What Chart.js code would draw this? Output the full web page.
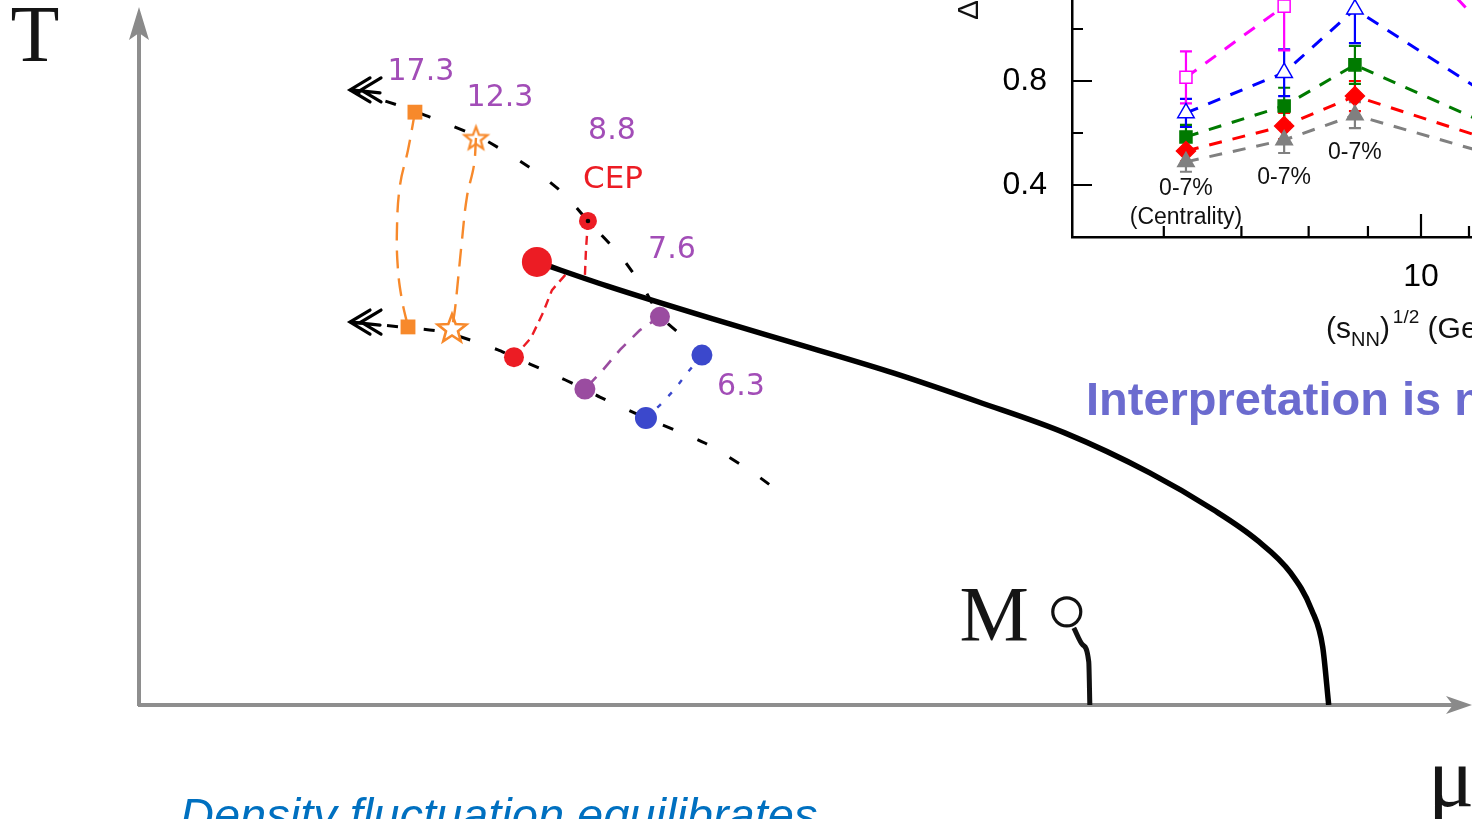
<!DOCTYPE html>
<html>
<head>
<meta charset="utf-8">
<title>QCD phase diagram and intermittency index</title>
<script src="https://cdn.jsdelivr.net/npm/chart.js@4.4.1/dist/chart.umd.min.js"></script>
<style>
  html, body { margin: 0; padding: 0; background: #fff; overflow: hidden; width: 1472px; height: 819px; }
  #wrap { position: relative; width: 1472px; height: 819px; overflow: hidden; }
  #main { position: absolute; left: 0; top: 0; }
  #inset { position: absolute; left: 932px; top: -160px; }
</style>
</head>
<body>
<div id="wrap">
  <canvas id="main" width="1472" height="819"></canvas>
  <canvas id="inset" width="908" height="560"></canvas>
</div>
<script>
// ---------------- Phase diagram (muB and T in MeV) ----------------
// crossover / first-order boundary starting at the critical end point
const boundaryMu = [298.5, 351.0, 430.5, 501.8, 566.3, 630.0, 694.5, 758.3, 806.3, 838.5, 864.0, 879.8, 888.0, 892.5];
const boundaryT  = [127.5, 120.6, 111.1, 103.0,  95.5,  87.2,  78.3,  66.8,  56.1,  47.5,  38.0,  27.3,  16.7,   0.0];

// upper and lower dashed freeze-out curves (first point = arrow tip)
const upperFoMu = [158.3, 193.5, 218.3, 259.5, 299.3, 319.5, 336.8, 360.8, 379.5, 390.8, 415.5, 422.3];
const upperFoT  = [177.0, 172.7, 169.2, 162.6, 153.1, 146.8, 139.3, 129.5, 119.4, 111.9, 103.6, 100.7];
const lowerFoMu = [158.3, 195.8, 229.5, 269.3, 281.3, 305.3, 334.5, 345.8, 380.3, 424.5, 459.8, 488.3];
const lowerFoT  = [110.2, 108.8, 107.3, 102.2, 100.1,  96.1,  90.9,  88.6,  82.6,  75.4,  67.1,  59.0];

// beam energies sqrt(sNN) in GeV and their early / late points
const energyLabels = ['17.3', '12.3', '8.8', '7.6', '6.3'];
const highMu = [207.0, 252.8, 336.8, 390.8, 422.3];
const highT  = [170.6, 163.2, 139.3, 111.7, 100.7];
const lowMu  = [201.8, 234.8, 281.3, 334.5, 380.3];
const lowT   = [108.8, 108.5, 100.1,  90.9,  82.6];

// trajectories between the two points of each energy
const path173Mu = [207.0, 201.8, 195.8, 193.5, 194.3, 197.3, 201.8];
const path173T  = [170.6, 159.7, 149.6, 136.7, 125.2, 116.5, 108.8];
const path123Mu = [252.8, 251.3, 246.0, 242.3, 239.3, 237.0, 234.8];
const path123T  = [163.2, 155.4, 146.2, 133.8, 122.3, 113.7, 108.5];
const path88Mu  = [336.8, 335.3, 334.5, 320.3, 309.8, 303.0, 294.0, 281.3];
const path88T   = [139.3, 130.9, 123.5, 124.0, 119.4, 112.8, 105.6, 100.1];
const path76Mu  = [390.8, 375.8, 360.8, 348.0, 334.5];
const path76T   = [111.7, 107.9, 102.2,  96.4,  90.9];
const path63Mu  = [422.3, 411.8, 401.3, 390.8, 380.3];
const path63T   = [100.7,  95.8,  90.6,  86.3,  82.6];

// critical end point
const cepMu = [298.5];
const cepT  = [127.5];

// nuclear matter point M and its liquid-gas line
const mPointMu = [696.0];
const mPointT  = [26.8];
const mLineMu  = [701.3, 708.0, 712.5, 713.3];
const mLineT   = [22.2, 17.3, 12.4, 0.0];

// ---------------- Inset: index vs sqrt(sNN) ----------------
const insetEnergy = [6.27, 7.62, 8.77, 12.3];
const magentaVal = [0.814, 1.088, 1.540, 0.836];
const magentaErr = [0.100, 0.170, 0.150, 0.120];
const blueVal    = [0.677, 0.832, 1.076, 0.654];
const blueErr    = [0.054, 0.090, 0.130, 0.080];
const greenVal   = [0.585, 0.704, 0.862, 0.570];
const greenErr   = [0.046, 0.070, 0.073, 0.060];
const redVal     = [0.531, 0.627, 0.742, 0.530];
const redErr     = [0.040, 0.050, 0.058, 0.050];
const grayVal    = [0.489, 0.573, 0.669, 0.480];
const grayErr    = [0.038, 0.050, 0.050, 0.040];

const insetYTicks  = [0.2, 0.4, 0.6, 0.8, 1.0, 1.2, 1.4, 1.6];
const insetYLabels = [0.4, 0.8, 1.2];
const insetXTicks  = [5, 6, 7, 8, 9, 10, 11, 12, 13, 14, 15, 16, 17, 18, 19, 20];
const insetXLabels = [10];

// centrality notes: [energy, value, text]
const centralityNotes = [
  [6.27, 0.385, '0-7%'],
  [6.27, 0.275, '(Centrality)'],
  [7.62, 0.430, '0-7%'],
  [8.77, 0.525, '0-7%']
];

// ------------------------------------------------------------
const pts = (xs, ys) => xs.map((x, i) => ({ x: x, y: ys[i] }));
const SANS = '"Liberation Sans", Arial, sans-serif';
const SERIF = '"Liberation Serif", "Times New Roman", serif';

const ORANGE = '#f7892b', RED = '#ec1c24', PURPLE = '#9a4ca0', BLUE = '#3b48cc';
const LABEL_PURPLE = '#a24db7';

function starImage(r, color, lw) {
  const s = Math.ceil(2 * r + 2 * lw + 4);
  const c = document.createElement('canvas');
  c.width = s; c.height = s;
  const g = c.getContext('2d');
  g.translate(s / 2, s / 2 + r * 0.08);
  g.beginPath();
  for (let i = 0; i < 10; i++) {
    const rad = i % 2 ? r * 0.42 : r;
    const a = -Math.PI / 2 + i * Math.PI / 5;
    g.lineTo(rad * Math.cos(a), rad * Math.sin(a));
  }
  g.closePath();
  g.strokeStyle = color;
  g.lineWidth = lw;
  g.lineJoin = 'miter';
  g.stroke();
  return c;
}
const starSmall = starImage(12, ORANGE, 2.2);
const starBig = starImage(15, ORANGE, 2.6);

// label offsets (px) from the early point of each energy
const labelDx = [6, 24, 24, 12, 39];
const labelDy = [-40, -40, -90, -67, 32];

const diagramDecor = {
  id: 'diagramDecor',
  beforeDatasetsDraw(chart) {
    const { ctx, scales: { x, y } } = chart;
    const x0 = x.getPixelForValue(0), y0 = y.getPixelForValue(0);
    const yTop = y.getPixelForValue(y.max), xEnd = x.getPixelForValue(x.max);
    ctx.save();
    ctx.strokeStyle = '#8e8e8e';
    ctx.fillStyle = '#8a8a8a';
    ctx.lineWidth = 4;
    ctx.beginPath();
    ctx.moveTo(x0, y0 + 1); ctx.lineTo(x0, yTop + 20);
    ctx.moveTo(x0 - 1, y0); ctx.lineTo(xEnd - 14, y0);
    ctx.stroke();
    // arrow heads
    ctx.beginPath();
    ctx.moveTo(x0, yTop - 3); ctx.lineTo(x0 + 10, yTop + 30); ctx.lineTo(x0, yTop + 23); ctx.lineTo(x0 - 10, yTop + 30); ctx.closePath();
    ctx.fill();
    ctx.beginPath();
    ctx.moveTo(xEnd, y0); ctx.lineTo(xEnd - 26, y0 - 9); ctx.lineTo(xEnd - 19, y0); ctx.lineTo(xEnd - 26, y0 + 9); ctx.closePath();
    ctx.fill();
    ctx.restore();
  },
  afterDatasetsDraw(chart) {
    const { ctx, scales: { x, y } } = chart;
    ctx.save();
    // double arrow heads at the start of both freeze-out curves
    [[upperFoMu, upperFoT], [lowerFoMu, lowerFoT]].forEach(([ms, ts]) => {
      const tx = x.getPixelForValue(ms[0]), ty = y.getPixelForValue(ts[0]);
      ctx.strokeStyle = '#000';
      ctx.lineWidth = 3.2;
      ctx.lineCap = 'round';
      ctx.beginPath();
      ctx.moveTo(tx + 1, ty); ctx.lineTo(tx + 30, ty + 3);
      [0, 11].forEach(o => {
        ctx.moveTo(tx + o + 20, ty - 12); ctx.lineTo(tx + o, ty); ctx.lineTo(tx + o + 20, ty + 12);
      });
      ctx.stroke();
    });

    // energy labels
    ctx.textAlign = 'center';
    ctx.textBaseline = 'middle';
    ctx.font = '30px "DejaVu Sans", Verdana, sans-serif';
    energyLabels.forEach((t, i) => {
      const px = x.getPixelForValue(highMu[i]) + labelDx[i];
      const py = y.getPixelForValue(highT[i]) + labelDy[i];
      ctx.fillStyle = LABEL_PURPLE;
      ctx.fillText(t, px, py);
    });
    ctx.fillStyle = RED;
    ctx.font = '31px "DejaVu Sans", Verdana, sans-serif';
    ctx.fillText('CEP', x.getPixelForValue(highMu[2]) + 25, y.getPixelForValue(highT[2]) - 41);

    // axis names and the M point
    ctx.fillStyle = '#151515';
    ctx.textBaseline = 'alphabetic';
    ctx.font = '80px ' + SERIF;
    ctx.textAlign = 'center';
    ctx.fillText('T', x.getPixelForValue(0) - 104, 61);
    ctx.font = '86px ' + SERIF;
    ctx.textAlign = 'left';
    ctx.fillText('\u03bc', 1428, 806);
    ctx.font = '78px ' + SERIF;
    ctx.textAlign = 'right';
    ctx.fillText('M', x.getPixelForValue(mPointMu[0]) - 38, 640);

    // slide notes
    ctx.textAlign = 'left';
    ctx.fillStyle = '#6b6bcf';
    ctx.font = 'bold 47px ' + SANS;
    ctx.fillText('Interpretation is n', 1086, 415);
    ctx.fillStyle = '#0070c0';
    ctx.font = 'italic 47px ' + SANS;
    ctx.fillText('Density fluctuation equilibrates', 180, 831);
    ctx.restore();
  }
};

const lineDs = (data, color, width, dash, tension, order) => ({
  data, showLine: true, borderColor: color, borderWidth: width, borderDash: dash,
  tension: tension, pointRadius: 0, fill: false, order: order
});

new Chart(document.getElementById('main'), {
  type: 'scatter',
  data: {
    datasets: [
      // markers (drawn on top)
      { data: pts([highMu[2]], [highT[2]]), pointRadius: 2.3, pointBackgroundColor: '#000', pointBorderWidth: 0, order: 0 },
      { data: pts(cepMu, cepT), pointRadius: 15, pointBackgroundColor: RED, pointBorderColor: RED, pointBorderWidth: 0, order: 1 },
      { data: pts([highMu[0], lowMu[0]], [highT[0], lowT[0]]), pointStyle: 'rect', pointRadius: 10.5, pointBackgroundColor: ORANGE, pointBorderWidth: 0, order: 1 },
      { data: pts([highMu[1], lowMu[1]], [highT[1], lowT[1]]), pointStyle: [starSmall, starBig], pointRadius: 12, order: 1 },
      { data: pts([highMu[2], lowMu[2]], [highT[2], lowT[2]]), pointRadius: [9, 10], pointBackgroundColor: RED, pointBorderWidth: 0, order: 1 },
      { data: pts([highMu[3], lowMu[3]], [highT[3], lowT[3]]), pointRadius: [10, 10.5], pointBackgroundColor: PURPLE, pointBorderWidth: 0, order: 1 },
      { data: pts([highMu[4], lowMu[4]], [highT[4], lowT[4]]), pointRadius: [10.5, 11], pointBackgroundColor: BLUE, pointBorderWidth: 0, order: 1 },
      { data: pts(mPointMu, mPointT), pointRadius: 14, pointBackgroundColor: '#fff', pointBorderColor: '#111', pointBorderWidth: 3.2, order: 1 },
      // lines
      Object.assign(lineDs(pts(mLineMu, mLineT), '#111', 5, [], 0.3, 2), { cubicInterpolationMode: 'monotone' }),
      Object.assign(lineDs(pts(boundaryMu, boundaryT), '#000', 5.5, [], 0, 3), { cubicInterpolationMode: 'monotone' }),
      lineDs(pts(path173Mu, path173T), ORANGE, 2.4, [18, 10], 0.4, 4),
      lineDs(pts(path123Mu, path123T), ORANGE, 2.4, [18, 10], 0.4, 4),
      lineDs(pts(path88Mu, path88T), RED, 2.4, [9, 6], 0, 4),
      lineDs(pts(path76Mu, path76T), PURPLE, 2.6, [12, 10], 0, 4),
      lineDs(pts(path63Mu, path63T), BLUE, 2.4, [5, 11], 0, 4),
      lineDs(pts(upperFoMu, upperFoT), '#000', 3, [11, 26], 0.2, 5),
      lineDs(pts(lowerFoMu, lowerFoT), '#000', 3, [11, 26], 0.2, 5)
    ]
  },
  options: {
    responsive: false,
    animation: false,
    events: [],
    layout: { autoPadding: false, padding: { left: 139, top: 10, right: 0, bottom: 114 } },
    plugins: { legend: { display: false }, tooltip: { enabled: false } },
    scales: {
      x: { type: 'linear', min: 0, max: 1000, display: false },
      y: { type: 'linear', min: 0, max: 200, display: false }
    }
  },
  plugins: [diagramDecor]
});

// ---------------- inset chart ----------------
const insetSeries = [
  { val: magentaVal, err: magentaErr, color: '#ff00ff', style: 'rect', r: 8.5, fill: '#ffffff' },
  { val: blueVal, err: blueErr, color: '#0000ff', style: 'triangle', r: 9.5, fill: '#ffffff' },
  { val: greenVal, err: greenErr, color: '#007a00', style: 'rect', r: 8.5, fill: '#007a00' },
  { val: redVal, err: redErr, color: '#ff0000', style: 'rectRot', r: 9.5, fill: '#ff0000' },
  { val: grayVal, err: grayErr, color: '#808080', style: 'triangle', r: 9.5, fill: '#808080' }
];

const isLabeled = (v, list) => list.some(l => Math.abs(l - v) < 1e-6);

const insetDecor = {
  id: 'insetDecor',
  beforeDatasetsDraw(chart) {
    const { ctx, chartArea: a, scales: { x, y } } = chart;
    ctx.save();
    ctx.beginPath(); ctx.rect(a.left, a.top, a.right - a.left, a.bottom - a.top); ctx.clip();
    ctx.lineWidth = 2.2;
    insetSeries.slice().reverse().forEach(s => {
      ctx.strokeStyle = s.color;
      s.val.forEach((v, i) => {
        const px = x.getPixelForValue(insetEnergy[i]);
        const yTop = y.getPixelForValue(v + s.err[i]);
        const yBot = y.getPixelForValue(v - s.err[i]);
        ctx.beginPath();
        ctx.moveTo(px, yTop); ctx.lineTo(px, yBot);
        ctx.moveTo(px - 6, yTop); ctx.lineTo(px + 6, yTop);
        ctx.moveTo(px - 6, yBot); ctx.lineTo(px + 6, yBot);
        ctx.stroke();
      });
    });
    ctx.restore();
  },
  afterDraw(chart) {
    const { ctx, chartArea: a, scales: { x, y } } = chart;
    ctx.save();
    ctx.strokeStyle = '#000';
    ctx.lineWidth = 2.2;
    ctx.beginPath();
    insetYTicks.forEach(v => {
      const py = y.getPixelForValue(v);
      const len = isLabeled(v, insetYLabels) ? 20 : 11;
      ctx.moveTo(a.left, py); ctx.lineTo(a.left + len, py);
    });
    insetXTicks.forEach(v => {
      if (v === x.min) return;
      const px = x.getPixelForValue(v);
      const len = isLabeled(v, insetXLabels) ? 23 : 11;
      ctx.moveTo(px, a.bottom); ctx.lineTo(px, a.bottom - len);
    });
    ctx.stroke();

    // centrality notes
    ctx.fillStyle = '#111';
    ctx.font = '23px ' + SANS;
    ctx.textAlign = 'center';
    ctx.textBaseline = 'middle';
    centralityNotes.forEach(([e, v, t]) => {
      ctx.fillText(t, x.getPixelForValue(e), y.getPixelForValue(v));
    });

    // axis titles
    ctx.textAlign = 'left';
    ctx.textBaseline = 'alphabetic';
    let cx = 394;
    const base = 498;
    const put = (t, size, dy) => {
      ctx.font = size + 'px ' + SANS;
      ctx.fillText(t, cx, base + dy);
      cx += ctx.measureText(t).width;
    };
    put('(s', 30, 0);
    put('NN', 20, 8);
    put(')', 30, 0);
    cx += 3;
    put('1/2', 19, -15);
    put(' (GeV)', 30, 0);

    ctx.save();
    ctx.translate(46, 180);
    ctx.rotate(-Math.PI / 2);
    ctx.font = '30px ' + SANS;
    ctx.fillText('\u0394', 0, 0);
    ctx.restore();
    ctx.restore();
  }
};

// keep the plot frame exactly where the layout padding puts it
const noEdgePadding = s => { s.paddingTop = 0; s.paddingBottom = 0; s.paddingLeft = 0; s.paddingRight = 0; };

new Chart(document.getElementById('inset'), {
  type: 'scatter',
  data: {
    datasets: insetSeries.map((s, k) => ({
      data: pts(insetEnergy, s.val),
      showLine: true,
      borderColor: s.color,
      borderWidth: 3,
      borderDash: [13, 11],
      pointStyle: s.style,
      pointRadius: s.r,
      pointBackgroundColor: s.fill,
      pointBorderColor: s.color,
      pointBorderWidth: 1.5,
      order: 4 - k
    }))
  },
  options: {
    responsive: false,
    animation: false,
    events: [],
    layout: { autoPadding: false, padding: { left: 0, top: 33, right: 70, bottom: 0 } },
    plugins: { legend: { display: false }, tooltip: { enabled: false } },
    scales: {
      x: {
        type: 'logarithmic', min: 5, max: 20,
        afterBuildTicks: s => { s.ticks = insetXTicks.map(v => ({ value: v })); },
        afterFit: s => { s.height = 163; noEdgePadding(s); },
        grid: { display: false, drawTicks: false },
        border: { display: true, color: '#000', width: 2.5 },
        ticks: {
          autoSkip: false, maxRotation: 0, padding: 21, color: '#000',
          font: { family: SANS, size: 32 },
          callback: v => isLabeled(v, insetXLabels) ? String(v) : ''
        }
      },
      y: {
        type: 'linear', min: 0.2, max: 1.6,
        afterBuildTicks: s => { s.ticks = insetYTicks.map(v => ({ value: v })); },
        afterFit: s => { s.width = 140; noEdgePadding(s); },
        grid: { display: false, drawTicks: false },
        border: { display: true, color: '#000', width: 2.5 },
        ticks: {
          autoSkip: false, padding: 25, color: '#000',
          font: { family: SANS, size: 32 },
          callback: v => isLabeled(v, insetYLabels) ? v.toFixed(1) : ''
        }
      }
    }
  },
  plugins: [insetDecor]
});
</script>
</body>
</html>
